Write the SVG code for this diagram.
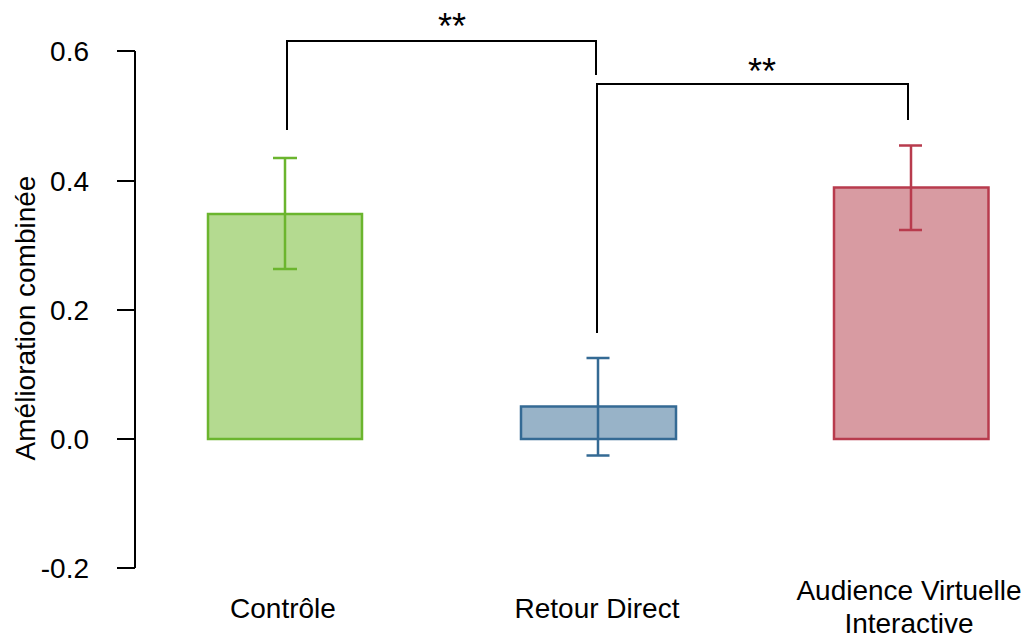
<svg xmlns="http://www.w3.org/2000/svg" width="1027" height="637" viewBox="0 0 1027 637">
  <style>
    text { font-family: "Liberation Sans", Arial, sans-serif; font-size: 28px; fill: #000; }
    .tick { text-anchor: end; }
    .cat { text-anchor: middle; }
    .star { text-anchor: middle; font-size: 36px; }
    .axis { stroke: #000; stroke-width: 2; fill: none; }
    .bracket { stroke: #000; stroke-width: 2; fill: none; }
    .green rect { fill: #b4da90; stroke: #6bb52e; stroke-width: 2.5; }
    .green path { stroke: #6bb52e; stroke-width: 2.5; fill: none; }
    .blue rect { fill: #98b3c8; stroke: #346a94; stroke-width: 2.5; }
    .blue path { stroke: #346a94; stroke-width: 2.5; fill: none; }
    .red rect { fill: #d89ba2; stroke: #b83b4d; stroke-width: 2.5; }
    .red path { stroke: #b83b4d; stroke-width: 2.5; fill: none; }
  </style>

  <!-- y axis: 0.6 at y=51, 0.0 at y=439, -0.2 at y=568 -->
  <g id="y-axis">
    <path class="axis" d="M135,51 V568 M117,51 H135 M117,181 H135 M117,310 H135 M117,439 H135 M117,568 H135"/>
    <text class="tick" x="89" y="61">0.6</text>
    <text class="tick" x="89" y="191">0.4</text>
    <text class="tick" x="89" y="320">0.2</text>
    <text class="tick" x="89" y="449">0.0</text>
    <text class="tick" x="89" y="578">-0.2</text>
    <text class="cat" transform="translate(35,318) rotate(-90)">Amélioration combinée</text>
  </g>

  <g id="bar-controle" class="green">
    <rect x="208" y="214" width="154" height="225"/>
    <path d="M285,158 V269 M273,158 H297 M273,269 H297"/>
    <text class="cat" x="283" y="618">Contrôle</text>
  </g>

  <g id="bar-retour-direct" class="blue">
    <rect x="521" y="406.5" width="155" height="32.5"/>
    <path d="M598,358 V455.5 M586.5,358 H609.5 M586.5,455.5 H609.5"/>
    <text class="cat" x="597" y="618">Retour Direct</text>
  </g>

  <g id="bar-audience" class="red">
    <rect x="834" y="187.5" width="154.5" height="251.5"/>
    <path d="M911,145.5 V230 M899,145.5 H922 M899,230 H922"/>
    <text class="cat" x="909" y="600">Audience Virtuelle</text>
    <text class="cat" x="909" y="633">Interactive</text>
  </g>

  <!-- significance brackets -->
  <g id="connectors">
    <path class="bracket" d="M287,130 V41 H596 V75"/>
    <text class="star" x="452" y="39">**</text>
    <path class="bracket" d="M597,333 V84 H908 V120"/>
    <text class="star" x="762" y="84">**</text>
  </g>
</svg>
